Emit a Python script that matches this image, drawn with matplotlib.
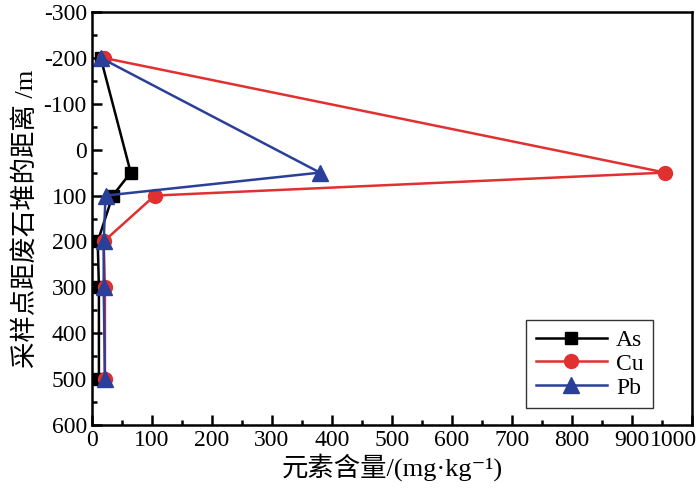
import numpy as np
import matplotlib.pyplot as plt
from matplotlib.ticker import MultipleLocator
import matplotlib.transforms as mtransforms

plt.rcParams['font.family'] = ['Liberation Serif', 'Noto Sans CJK SC', 'DejaVu Sans']
plt.rcParams['axes.unicode_minus'] = False

# distance from waste rock pile (m)
dist = [-200, 50, 100, 200, 300, 500]
as_vals = [15, 65, 35, 10, 12, 12]
cu_vals = [20, 955, 105, 20, 22, 22]
pb_vals = [15, 380, 23, 20, 20, 22]

fig = plt.figure(figsize=(7, 5), dpi=100)
ax = fig.add_axes([0.131, 0.15, 0.858, 0.826])

ax.plot(as_vals, dist, color='black', marker='s', markersize=9, lw=1.8, label='As')
ax.plot(cu_vals, dist, color='#e03030', marker='o', markersize=10, lw=1.8, label='Cu')
ax.plot(pb_vals, dist, color='#2a3f9a', marker='^', markersize=11, lw=1.8, label='Pb')

ax.set_xlim(0, 1000)
ax.set_ylim(600, -300)
ax.xaxis.set_major_locator(MultipleLocator(100))
ax.xaxis.set_minor_locator(MultipleLocator(50))
ax.yaxis.set_major_locator(MultipleLocator(100))
ax.yaxis.set_minor_locator(MultipleLocator(50))
ax.tick_params(which='both', direction='in', width=1.8, labelsize=17)
ax.tick_params(which='major', length=7)
ax.tick_params(which='minor', length=3.5)
for s in ax.spines.values():
    s.set_linewidth(1.8)

ax.set_xlabel('元素含量/(mg·kg⁻¹)', fontsize=19, labelpad=2)
ax.set_ylabel('采样点距废石堆的距离 /m', fontsize=19, labelpad=4)

leg = ax.legend(loc='lower right', bbox_to_anchor=(0.935, 0.041), borderaxespad=0,
                fontsize=17, fancybox=False, edgecolor='black', handlelength=3.0,
                borderpad=0.4, labelspacing=0.1, handletextpad=0.4)
leg.get_frame().set_linewidth(1.0)

# pull the "1000" label inside the figure
fig.canvas.draw()
for lab in ax.get_xticklabels():
    if lab.get_text() == '1000':
        lab.set_horizontalalignment('right')
        lab.set_transform(lab.get_transform() +
                          mtransforms.ScaledTranslation(5 / 100, 0, fig.dpi_scale_trans))

fig.savefig('out.png')
